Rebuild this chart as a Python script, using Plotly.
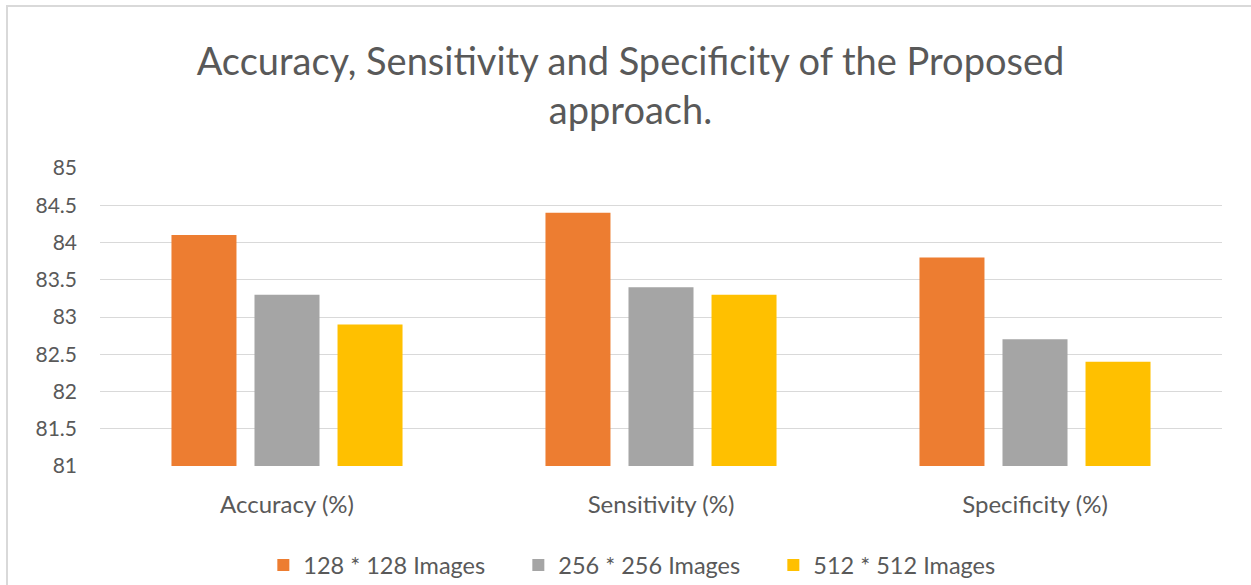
import plotly.graph_objects as go

categories = ["Accuracy (%)", "Sensitivity (%)", "Specificity (%)"]
series_names = ["128 * 128 Images", "256 * 256 Images", "512 * 512 Images"]
vals_128 = [84.1, 84.4, 83.8]
vals_256 = [83.3, 83.4, 82.7]
vals_512 = [82.9, 83.3, 82.4]
colors = ["#ED7D31", "#A5A5A5", "#FFC000"]
tick_vals = [81, 81.5, 82, 82.5, 83, 83.5, 84, 84.5, 85]
tick_text = ["81", "81.5", "82", "82.5", "83", "83.5", "84", "84.5", "85"]
BASE = 81

FONT = "Lato, Roboto, sans-serif"
TXT = "#595959"

fig = go.Figure()
for name, vals, c in zip(series_names, [vals_128, vals_256, vals_512], colors):
    fig.add_trace(go.Bar(x=categories, y=[v - BASE for v in vals], base=BASE, name=name,
                         marker=dict(color=c, line=dict(width=0)),
                         customdata=vals, hovertemplate="%{customdata}<extra>%{fullData.name}</extra>"))

fig.update_layout(
    width=1251, height=585,
    margin=dict(l=100, r=29, t=168, b=119, autoexpand=False),
    paper_bgcolor="white", plot_bgcolor="white",
    barmode="group", bargap=0.334, bargroupgap=0.217,
    title=dict(text="Accuracy, Sensitivity and Specificity of the Proposed<br>approach.",
               x=0.504, xanchor="center", y=0.872, yanchor="top",
               font=dict(family=FONT, size=38, color=TXT)),
    font=dict(family=FONT, color=TXT, size=22),
    xaxis=dict(showgrid=False, showline=False, ticks="", tickfont=dict(size=24, color=TXT),
               ticklabelstandoff=22),
    yaxis=dict(range=[81, 85], tickvals=tick_vals, ticktext=tick_text, showgrid=True,
               gridcolor="#D9D9D9", gridwidth=1, zeroline=False, showline=False,
               tickfont=dict(size=21, color=TXT), ticklabelstandoff=22),
    legend=dict(orientation="h", xref="container", yref="container", x=0.2105, xanchor="left",
                y=0.034, yanchor="middle", entrywidth=210, entrywidthmode="pixels",
                font=dict(size=23.5, color=TXT), traceorder="normal"),
    showlegend=True,
    shapes=[dict(type="rect", xref="paper", yref="paper", x0=-0.0829, x1=1.2, y0=-0.6, y1=1.5436,
                 line=dict(color="#D9D9D9", width=2))],
)
fig.write_html("out.html")
